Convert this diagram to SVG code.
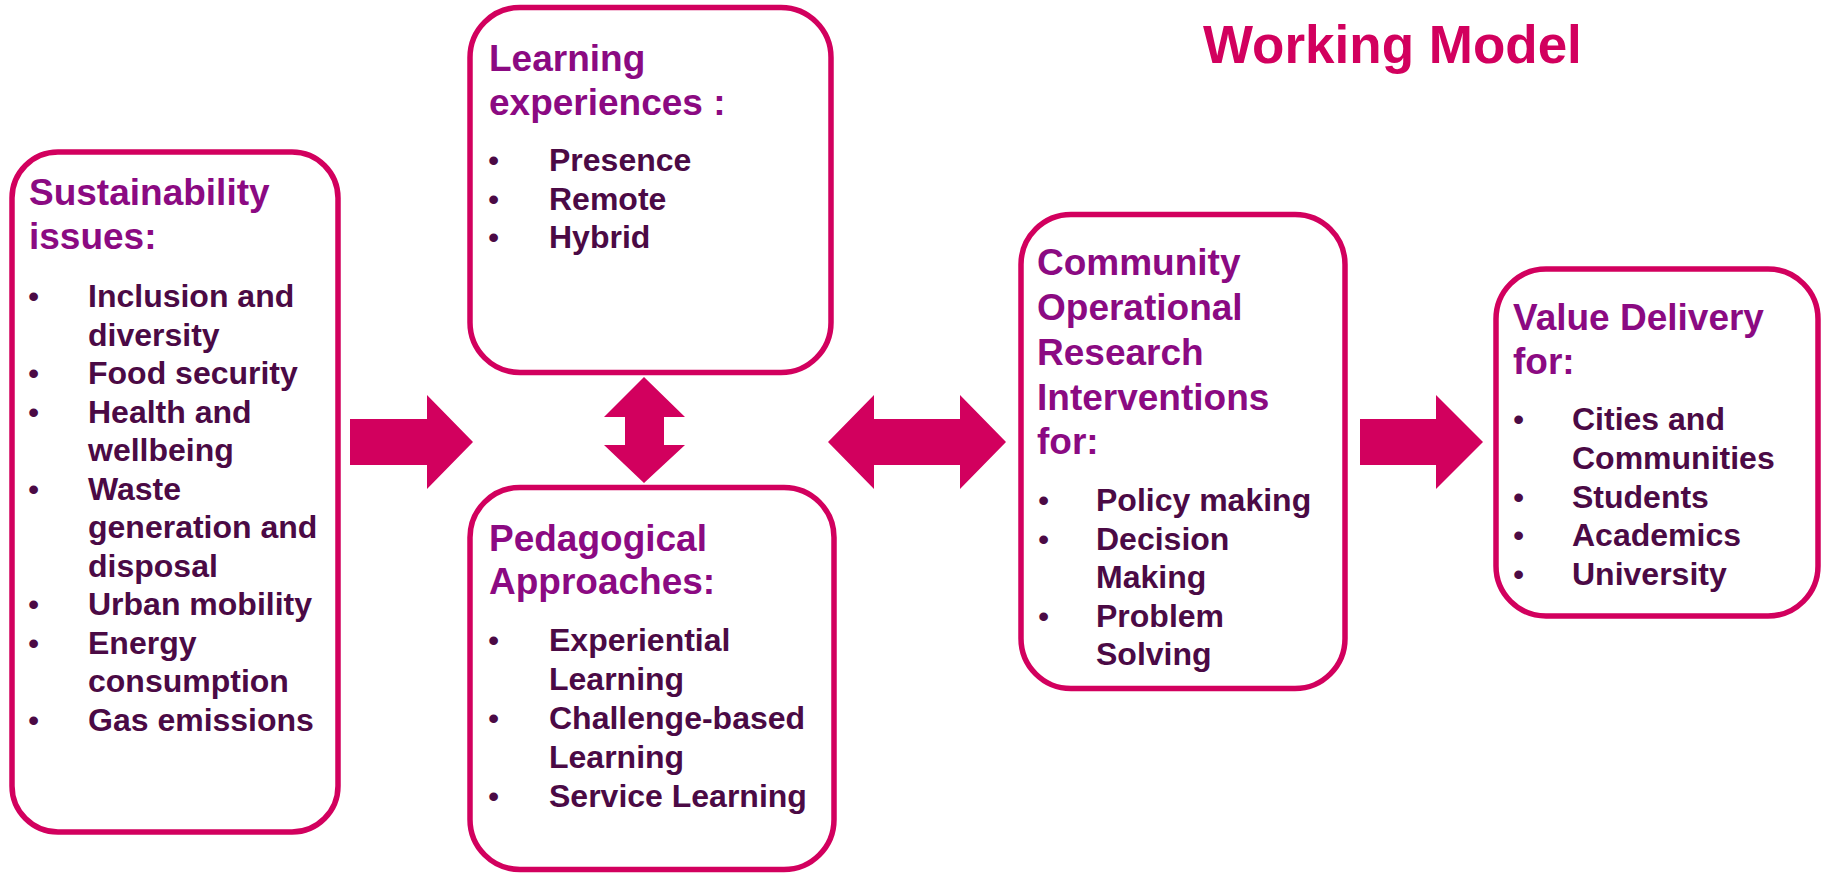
<svg xmlns="http://www.w3.org/2000/svg" width="1823" height="874" viewBox="0 0 1823 874">
  <style>
    .box { fill: #ffffff; stroke: #D2005E; stroke-width: 5.5; }
    .arrow { fill: #D2005E; stroke: none; }
    .title { font-family: "Liberation Sans", Arial, sans-serif; font-weight: bold; font-size: 37px; fill: #8B0A82; }
    .item { font-family: "Liberation Sans", Arial, sans-serif; font-weight: bold; font-size: 32px; fill: #4B0A45; }
    .bullet { font-weight: normal; }
    .heading { font-family: "Liberation Sans", Arial, sans-serif; font-weight: bold; font-size: 53px; fill: #D2005E; }
  </style>

  <rect width="1823" height="874" fill="#ffffff"/>

  <text class="heading" x="1203" y="63">Working Model</text>

  <!-- block arrows between the stages -->
  <g id="connectors">
    <polygon class="arrow" points="350,419 427,419 427,395 473,442 427,489 427,465 350,465"/>
    <polygon class="arrow" points="644,377 685,417 664,417 664,445 685,445 644,483 604,445 625,445 625,417 604,417"/>
    <polygon class="arrow" points="828,442 874,395 874,419 960,419 960,395 1006,442 960,489 960,465 874,465 874,489"/>
    <polygon class="arrow" points="1360,419 1436,419 1436,395 1483,442 1436,489 1436,465 1360,465"/>
  </g>

  <g id="sustainability">
    <rect class="box" x="12" y="152" width="326" height="680" rx="46"/>
    <text class="title" x="29" y="205">Sustainability</text>
    <text class="title" x="29" y="249">issues:</text>
    <g class="item">
      <text class="bullet" x="28" y="307">•</text><text x="88" y="307">Inclusion and</text>
      <text x="88" y="345.5">diversity</text>
      <text class="bullet" x="28" y="384">•</text><text x="88" y="384">Food security</text>
      <text class="bullet" x="28" y="422.5">•</text><text x="88" y="422.5">Health and</text>
      <text x="88" y="461">wellbeing</text>
      <text class="bullet" x="28" y="499.5">•</text><text x="88" y="499.5">Waste</text>
      <text x="88" y="538">generation and</text>
      <text x="88" y="576.5">disposal</text>
      <text class="bullet" x="28" y="615">•</text><text x="88" y="615">Urban mobility</text>
      <text class="bullet" x="28" y="653.5">•</text><text x="88" y="653.5">Energy</text>
      <text x="88" y="692">consumption</text>
      <text class="bullet" x="28" y="730.5">•</text><text x="88" y="730.5">Gas emissions</text>
    </g>
  </g>

  <g id="learning-experiences">
    <rect class="box" x="470" y="7.5" width="361" height="365" rx="50"/>
    <text class="title" x="489" y="71">Learning</text>
    <text class="title" x="489" y="115">experiences :</text>
    <g class="item">
      <text class="bullet" x="488" y="171">•</text><text x="549" y="171">Presence</text>
      <text class="bullet" x="488" y="209.5">•</text><text x="549" y="209.5">Remote</text>
      <text class="bullet" x="488" y="248">•</text><text x="549" y="248">Hybrid</text>
    </g>
  </g>

  <g id="pedagogical-approaches">
    <rect class="box" x="470" y="487.5" width="364" height="382" rx="50"/>
    <text class="title" x="489" y="551">Pedagogical</text>
    <text class="title" x="489" y="594">Approaches:</text>
    <g class="item">
      <text class="bullet" x="488" y="651">•</text><text x="549" y="651">Experiential</text>
      <text x="549" y="690">Learning</text>
      <text class="bullet" x="488" y="729">•</text><text x="549" y="729">Challenge-based</text>
      <text x="549" y="768">Learning</text>
      <text class="bullet" x="488" y="807">•</text><text x="549" y="807">Service Learning</text>
    </g>
  </g>

  <g id="community-interventions">
    <rect class="box" x="1021" y="214.5" width="324" height="474" rx="50"/>
    <text class="title" x="1037" y="275">Community</text>
    <text class="title" x="1037" y="320">Operational</text>
    <text class="title" x="1037" y="365">Research</text>
    <text class="title" x="1037" y="410">Interventions</text>
    <text class="title" x="1037" y="454">for:</text>
    <g class="item">
      <text class="bullet" x="1038" y="511">•</text><text x="1096" y="511">Policy making</text>
      <text class="bullet" x="1038" y="550">•</text><text x="1096" y="550">Decision</text>
      <text x="1096" y="588">Making</text>
      <text class="bullet" x="1038" y="627">•</text><text x="1096" y="627">Problem</text>
      <text x="1096" y="665">Solving</text>
    </g>
  </g>

  <g id="value-delivery">
    <rect class="box" x="1496" y="269" width="322" height="347" rx="50"/>
    <text class="title" x="1513" y="330">Value Delivery</text>
    <text class="title" x="1513" y="374">for:</text>
    <g class="item">
      <text class="bullet" x="1513" y="430">•</text><text x="1572" y="430">Cities and</text>
      <text x="1572" y="468.5">Communities</text>
      <text class="bullet" x="1513" y="508">•</text><text x="1572" y="508">Students</text>
      <text class="bullet" x="1513" y="546">•</text><text x="1572" y="546">Academics</text>
      <text class="bullet" x="1513" y="585">•</text><text x="1572" y="585">University</text>
    </g>
  </g>
</svg>
